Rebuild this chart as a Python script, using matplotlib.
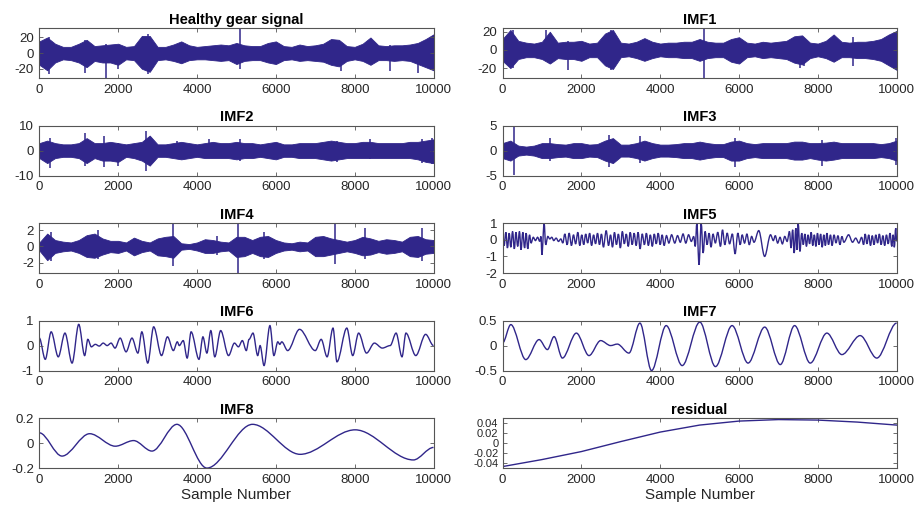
import numpy as np
import matplotlib
matplotlib.use("Agg")
import matplotlib.pyplot as plt
from matplotlib.path import Path
from matplotlib.patches import PathPatch

plt.rcParams['font.family'] = ['Liberation Sans', 'DejaVu Sans']
plt.rcParams['axes.unicode_minus'] = False

line_color = '#30268a'

# dense signals: band envelope read every 200 samples, plus isolated spikes
env_x = np.arange(0, 10001, 200)

sig_up = [15, 20, 12, 8, 8, 12, 17, 9, 10, 11, 12, 8, 9, 22, 22, 8, 8, 11, 15, 10,
          8, 9, 10, 11, 10, 13, 10, 9, 9, 13, 15, 9, 8, 11, 9, 10, 12, 18, 17, 9,
          8, 12, 20, 10, 9, 10, 10, 11, 13, 18, 24]
sig_lo = [15, 22, 12, 8, 9, 12, 18, 10, 12, 12, 15, 8, 9, 20, 24, 9, 8, 10, 13, 9,
          8, 8, 9, 10, 9, 14, 10, 9, 9, 12, 14, 9, 8, 10, 9, 10, 11, 15, 17, 10,
          8, 10, 15, 9, 9, 10, 9, 10, 14, 18, 22]
sig_spikes = [(250, 20, -27), (1150, 17, -26), (1700, 12, -32), (2000, 8, -20),
              (2750, 24, -27), (5100, 32, -20), (7650, 10, -23), (8900, 10, -23),
              (9600, 10, -26)]

imf1_up = [12, 22, 10, 8, 7, 9, 20, 8, 9, 9, 10, 7, 8, 18, 22, 8, 7, 9, 13, 9,
           7, 8, 8, 9, 9, 12, 9, 8, 8, 12, 14, 8, 7, 9, 8, 9, 10, 15, 16, 8,
           7, 10, 17, 9, 8, 9, 9, 10, 12, 17, 21]
imf1_lo = [12, 20, 10, 8, 8, 10, 15, 9, 10, 10, 12, 8, 8, 17, 21, 8, 7, 9, 12, 9,
           7, 8, 8, 9, 9, 12, 9, 8, 8, 13, 15, 8, 7, 9, 8, 9, 10, 14, 16, 9,
           7, 9, 13, 8, 8, 9, 9, 10, 12, 17, 22]
imf1_spikes = [(260, 22, -20), (1100, 22, -10), (1650, 10, -22), (2750, 22, -22),
               (5100, 24, -31), (7550, 12, -20), (7650, 10, -18), (8900, 14, -18)]

imf2_up = [3, 4, 3, 2.5, 2.5, 3, 5, 3, 3, 3.5, 3, 2.5, 3, 3.5, 6, 2.5, 2.5, 3, 3.5, 3,
           2.5, 3, 3.5, 3, 3, 3.5, 3, 3, 2.5, 3, 3.5, 2.5, 2.5, 3, 3, 3, 3.5, 4, 3.5, 3,
           3, 3.5, 3.5, 3, 3, 3, 3, 3.5, 3.5, 4, 4.5]
imf2_lo = [3, 5, 3, 2.5, 2.5, 3, 5, 3, 4, 4, 4.5, 2.5, 3, 4, 6, 2.5, 2.5, 3, 3.5, 3,
           2.5, 3, 3, 3, 3, 3.5, 3, 3, 2.5, 3, 3.5, 2.5, 2.5, 3, 3, 3, 3.5, 4, 3.5, 3,
           3, 3, 3, 3, 3, 3, 3, 3, 3.5, 4.5, 5]
imf2_spikes = [(280, 5, -7), (1150, 7, -6), (1650, 6, -6.5), (2000, 3, -6),
               (2700, 8, -8), (3500, 4, -3), (4300, 4.5, -3), (5100, 4.5, -4),
               (7550, 4, -4.5), (8400, 4.5, -3.5), (9700, 4.5, -5), (9950, 5, -5.5)]

imf3_up = [1.5, 2, 1, 0.8, 1, 1.5, 1.5, 1.3, 1.2, 1.5, 1.5, 1.2, 1.3, 2, 2.5, 1.2, 1.2,
           1.5, 2, 1.5, 1.2, 1.2, 1.3, 1.5, 1.5, 1.8, 1.5, 1.3, 1.3, 1.8, 2, 1.5, 1.3,
           1.5, 1.5, 1.5, 1.5, 1.8, 1.8, 1.5, 1.5, 1.6, 1.8, 1.5, 1.5, 1.5, 1.5, 1.5,
           1.3, 1.5, 2]
imf3_lo = [1.5, 2, 1, 0.8, 1, 1.5, 1.5, 1.3, 1.2, 1.5, 1.5, 1.2, 1.3, 2, 2.5, 1.2, 1.2,
           1.5, 2, 1.5, 1.2, 1.2, 1.3, 1.5, 1.5, 1.8, 1.5, 1.3, 1.3, 2, 2, 1.5, 1.3,
           1.5, 1.5, 1.5, 1.5, 1.8, 1.8, 1.5, 1.8, 2, 1.8, 1.5, 1.5, 1.5, 1.5, 1.5,
           1.3, 1.5, 2]
imf3_spikes = [(280, 4.7, -4.8), (1200, 2.5, -2), (2700, 3.2, -3.2), (3500, 3, -2.5),
               (5900, 2.5, -3.2), (8100, 2.2, -3), (9980, 2.5, -2.8)]

imf4_up = [0.5, 1.6, 0.8, 0.6, 0.5, 0.8, 1.4, 1.6, 1.0, 0.7, 0.7, 0.5, 1.1, 0.7, 0.5,
           1.0, 1.2, 1.3, 0.4, 0.3, 0.5, 0.9, 0.8, 0.6, 0.5, 1.2, 1.2, 0.8, 1.2, 1.3,
           0.8, 0.5, 0.4, 0.6, 0.5, 1.2, 1.3, 1.0, 0.8, 0.6, 0.8, 1.2, 1.0, 0.7, 0.9,
           0.8, 0.6, 1.2, 1.3, 0.9, 0.8]
imf4_lo = [0.5, 1.7, 0.8, 0.6, 0.5, 0.8, 1.3, 1.4, 1.0, 0.7, 0.8, 0.5, 1.1, 0.7, 0.5,
           1.1, 1.2, 1.4, 0.4, 0.3, 0.5, 0.8, 0.8, 0.6, 0.5, 1.3, 1.2, 0.8, 1.2, 1.3,
           0.8, 0.5, 0.4, 0.6, 0.5, 1.2, 1.2, 1.0, 0.8, 0.6, 0.8, 1.1, 1.0, 0.7, 0.9,
           0.8, 0.6, 1.2, 1.3, 0.9, 0.8]
imf4_spikes = [(300, 1.8, -1.8), (1480, 2.0, -1.5), (3400, 2.8, -2.4), (4500, 1.3, -1.0),
               (5050, 2.9, -3.3), (5700, 1.8, -1.5), (7500, 2.9, -2.2), (8250, 2.3, -1.5),
               (9700, 2.3, -1.8)]

# oscillating IMFs: extrema (sample, value)
imf5_x = [0, 40, 85, 125, 170, 210, 255, 300, 340, 385, 430, 470, 515, 560, 600, 640,
          685, 725, 780, 835, 890, 945, 975, 1000, 1055, 1095, 1150, 1200, 1250, 1300,
          1360, 1420, 1480, 1530, 1580, 1640, 1690, 1750, 1800, 1855, 1910, 1960, 2010,
          2060, 2110, 2160, 2210, 2260, 2310, 2360, 2410, 2460, 2510, 2560, 2630, 2690,
          2740, 2790, 2840, 2890, 2940, 2990, 3040, 3090, 3140, 3190, 3240, 3290, 3340,
          3390, 3440, 3490, 3545, 3600, 3650, 3700, 3750, 3800, 3850, 3900, 3950, 4000,
          4050, 4100, 4160, 4220, 4290, 4370, 4440, 4510, 4580, 4650, 4720, 4790, 4850,
          4890, 4930, 4985, 5040, 5090, 5140, 5190, 5240, 5290, 5340, 5400, 5460, 5530,
          5580, 5640, 5700, 5760, 5830, 5900, 5970, 6030, 6080, 6140, 6200, 6260, 6320,
          6380, 6500, 6650, 6800, 6870, 6920, 6980, 7040, 7100, 7160, 7220, 7280, 7320,
          7360, 7400, 7440, 7470, 7500, 7545, 7590, 7630, 7670, 7710, 7750, 7790, 7830,
          7870, 7910, 7950, 7990, 8030, 8070, 8110, 8150, 8190, 8230, 8270, 8320, 8360,
          8410, 8460, 8510, 8560, 8610, 8660, 8780, 8880, 8960, 9040, 9110, 9160, 9200,
          9245, 9290, 9335, 9380, 9425, 9470, 9515, 9560, 9605, 9650, 9695, 9740, 9785,
          9830, 9875, 9910, 9940, 9975, 10000]
imf5_y = [0.55, -0.35, 0.45, -0.5, 0.4, -0.45, 0.5, -0.55, 0.45, -0.4, 0.5, -0.6, 0.45,
          -0.5, 0.4, -0.55, 0.3, -0.2, 0.15, -0.05, 0.15, -0.1, 0.2, -0.9, 1.0, -0.3,
          0.2, 0.05, 0.15, -0.05, 0.1, -0.1, 0.05, -0.2, 0.35, -0.3, 0.4, -0.35, 0.3,
          -0.25, 0.45, -0.35, 0.3, -0.3, 0.35, -0.2, 0.4, -0.35, 0.3, -0.25, 0.4, -0.3,
          0.35, -0.45, 0.55, -0.35, 0.3, -0.45, 0.45, -0.3, 0.35, -0.5, 0.5, -0.25, 0.35,
          -0.4, 0.45, -0.3, 0.4, -0.35, 0.45, -0.55, 0.35, -0.3, 0.4, -0.35, 0.3, -0.4,
          0.35, -0.25, 0.4, -0.3, 0.3, -0.35, 0.25, -0.2, 0.3, -0.2, 0.25, -0.15, 0.35,
          -0.2, 0.3, -0.1, 0.2, -0.4, 1.0, -1.5, 1.0, -0.8, 0.5, -0.3, 0.4, -0.45, 0.35,
          -0.2, 0.45, -0.4, 0.6, -0.3, 0.4, -0.25, 0.35, -0.85, 0.4, -0.3, 0.3, -0.2,
          0.35, -0.3, 0.2, -0.15, 0.55, -1.0, 0.3, -0.05, 0.25, -0.2, 0.15, -0.25, 0.2,
          -0.1, 0.5, -0.5, 0.6, -0.8, 0.7, -0.6, 1.0, -0.7, 0.4, -0.3, 0.35, -0.4, 0.3,
          -0.25, 0.45, -0.35, 0.3, -0.4, 0.4, -0.3, 0.35, -0.45, 0.3, -0.35, 0.4, -0.3,
          0.3, -0.35, 0.3, -0.2, 0.25, -0.3, 0.2, -0.15, 0.3, -0.15, 0.1, -0.2, 0.15,
          -0.3, 0.35, -0.25, 0.3, -0.35, 0.25, -0.3, 0.3, -0.2, 0.35, -0.3, 0.25, -0.35,
          0.3, -0.25, 0.4, -0.4, 0.3, -0.45, 0.7, -0.1]

imf6_x = [0, 150, 300, 480, 650, 830, 1000, 1150, 1230, 1320, 1420, 1520, 1620, 1720,
          1820, 1920, 2050, 2200, 2350, 2500, 2600, 2750, 2900, 3100, 3250, 3400, 3500,
          3550, 3650, 3750, 3850, 4050, 4150, 4250, 4350, 4450, 4600, 4800, 4950, 5050,
          5150, 5250, 5320, 5420, 5540, 5600, 5700, 5850, 5950, 6050, 6100, 6150, 6300,
          6600, 7000, 7150, 7300, 7450, 7550, 7800, 7950, 8100, 8300, 8500, 8700, 8900,
          9050, 9200, 9300, 9550, 9800, 10000]
imf6_y = [0.3, -0.55, 0.55, -0.45, 0.5, -0.7, 0.85, -0.4, 0.25, -0.05, 0.05, -0.02, 0.1,
          0.0, 0.1, -0.1, 0.3, -0.25, 0.3, -0.3, 0.55, -0.7, 0.75, -0.4, 0.35, -0.2, 0.15,
          0.0, 0.2, -0.5, 0.55, -0.55, 0.35, -0.3, 0.6, -0.45, 0.6, -0.4, 0.1, -0.05,
          0.2, -0.2, 0.25, 0.5, -0.4, 0.0, -0.8, 0.8, -0.4, 0.15, 0.05, 0.15, -0.2,
          0.65, -0.2, 0.25, -0.45, 0.7, -0.65, 0.7, -0.4, 0.5, -0.3, 0.1, -0.1, 0.0,
          0.5, -0.45, 0.5, -0.4, 0.45, 0.0]

imf7_x = [0, 211, 590, 928, 1139, 1308, 1519, 1874, 2194, 2490, 2743, 2912, 3207, 3486,
          3781, 4152, 4558, 5005, 5402, 5824, 6229, 6651, 7047, 7410, 7807, 8229, 8609,
          9073, 9495, 10000]
imf7_y = [0.05, 0.42, -0.28, 0.12, -0.08, 0.18, -0.25, 0.25, -0.2, 0.1, 0.0, 0.03,
          -0.15, 0.45, -0.5, 0.4, -0.4, 0.47, -0.42, 0.4, -0.35, 0.37, -0.38, 0.4,
          -0.35, 0.25, -0.18, 0.2, -0.25, 0.45]

imf8_x = [0, 575, 1276, 1927, 2391, 2856, 3490, 4250, 5408, 6616, 8011, 9489, 10000]
imf8_y = [0.082, -0.104, 0.075, -0.025, 0.02, -0.064, 0.15, -0.2, 0.15, -0.09, 0.106,
          -0.135, -0.035]

res_x = [0, 1000, 2000, 3000, 4000, 5000, 6000, 7000, 8000, 9000, 10000]
res_y = [-0.047, -0.033, -0.017, 0.003, 0.022, 0.036, 0.044, 0.047, 0.046, 0.042, 0.036]


def smooth_path(xs, ys):
    verts = [(xs[0], ys[0])]
    codes = [Path.MOVETO]
    for i in range(len(xs) - 1):
        d = (xs[i + 1] - xs[i]) / 3.0
        verts += [(xs[i] + d, ys[i]), (xs[i + 1] - d, ys[i + 1]), (xs[i + 1], ys[i + 1])]
        codes += [Path.CURVE4] * 3
    return Path(verts, codes)


def draw_band(ax, up, lo, spikes):
    ax.fill_between(env_x, -np.array(lo), np.array(up), color=line_color, lw=0.6,
                    edgecolor=line_color)
    for sx, top, bot in spikes:
        ax.vlines(sx, bot, top, color=line_color, lw=1.1)


def draw_wave(ax, xs, ys, lw=1.0):
    ax.add_patch(PathPatch(smooth_path(xs, ys), fill=False, edgecolor=line_color, lw=lw))


fig, axes = plt.subplots(5, 2, figsize=(9.15, 5.11), dpi=100)
fig.subplots_adjust(left=0.043, right=0.980, top=0.945, bottom=0.084,
                    wspace=0.175, hspace=0.95)

panels = [
    (axes[0, 0], 'Healthy gear signal', (-32, 32), [-20, 0, 20]),
    (axes[0, 1], 'IMF1', (-31, 24), [-20, 0, 20]),
    (axes[1, 0], 'IMF2', (-10, 10), [-10, 0, 10]),
    (axes[1, 1], 'IMF3', (-5, 5), [-5, 0, 5]),
    (axes[2, 0], 'IMF4', (-3.3, 2.9), [-2, 0, 2]),
    (axes[2, 1], 'IMF5', (-2, 1), [-2, -1, 0, 1]),
    (axes[3, 0], 'IMF6', (-1, 1), [-1, 0, 1]),
    (axes[3, 1], 'IMF7', (-0.5, 0.5), [-0.5, 0, 0.5]),
    (axes[4, 0], 'IMF8', (-0.2, 0.2), [-0.2, 0, 0.2]),
    (axes[4, 1], 'residual', (-0.05, 0.05), [-0.04, -0.02, 0, 0.02, 0.04]),
]

draw_band(axes[0, 0], sig_up, sig_lo, sig_spikes)
draw_band(axes[0, 1], imf1_up, imf1_lo, imf1_spikes)
draw_band(axes[1, 0], imf2_up, imf2_lo, imf2_spikes)
draw_band(axes[1, 1], imf3_up, imf3_lo, imf3_spikes)
draw_band(axes[2, 0], imf4_up, imf4_lo, imf4_spikes)
draw_wave(axes[2, 1], imf5_x, imf5_y, lw=1.0)
draw_wave(axes[3, 0], imf6_x, imf6_y)
draw_wave(axes[3, 1], imf7_x, imf7_y)
draw_wave(axes[4, 0], imf8_x, imf8_y)
axes[4, 1].plot(res_x, res_y, color=line_color, lw=1.0)

for ax, title, ylim, yticks in panels:
    ax.set_xlim(0, 10000)
    ax.set_ylim(*ylim)
    ax.set_xticks([0, 2000, 4000, 6000, 8000, 10000])
    ax.set_yticks(yticks)
    ax.set_yticklabels(['%g' % v for v in yticks])
    ax.set_title(title, fontsize=10.5, fontweight='bold', pad=3)
    ax.tick_params(direction='in', top=True, right=True, length=3, width=0.6,
                   labelsize=9.5, pad=4, colors='#555555', labelcolor='#262626')
    for s in ax.spines.values():
        s.set_color('#555555')
        s.set_linewidth(0.8)

# residual labels sit close together, smaller text as in the figure
axes[4, 1].tick_params(axis='y', labelsize=8, pad=3)

axes[4, 0].set_xlabel('Sample Number', fontsize=11, color='#262626', labelpad=2)
axes[4, 1].set_xlabel('Sample Number', fontsize=11, color='#262626', labelpad=2)

fig.savefig('out.png', dpi=100)
